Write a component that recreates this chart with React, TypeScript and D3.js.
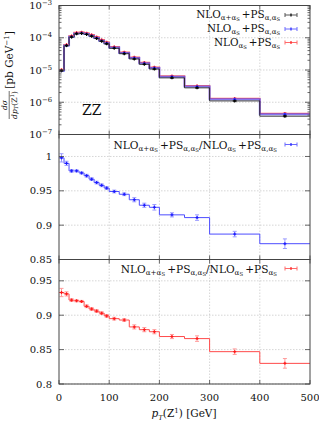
import React from "react";
import * as d3 from "d3";

// bin edges in p_T(Z1) [GeV]
const binEdges = [0, 10, 20, 30, 40, 50, 60, 70, 80, 90, 100, 120, 140, 160, 180, 200, 250, 300, 400, 500];
const xTicks = [0, 100, 200, 300, 400, 500];

// dsigma/dpT [pb/GeV]
const nloFullPsFull = [9.5e-6, 5.7e-5, 1.05e-4, 1.33e-4, 1.36e-4, 1.27e-4, 1.12e-4, 9.5e-5, 7.8e-5, 6.5e-5, 4.7e-5, 3.2e-5, 2.2e-5, 1.5e-5, 1.07e-5, 5.7e-6, 2.8e-6, 1.1e-6, 3.7e-7];
const nloQcdPsFull = [9.52e-6, 5.76e-5, 1.073e-4, 1.359e-4, 1.393e-4, 1.307e-4, 1.158e-4, 9.88e-5, 8.14e-5, 6.81e-5, 4.95e-5, 3.39e-5, 2.35e-5, 1.61e-5, 1.156e-5, 6.23e-6, 3.07e-6, 1.24e-6, 4.24e-7];
const nloQcdPsQcd = [1.018e-5, 6.12e-5, 1.139e-4, 1.444e-4, 1.478e-4, 1.391e-4, 1.232e-4, 1.049e-4, 8.64e-5, 7.23e-5, 5.25e-5, 3.58e-5, 2.49e-5, 1.71e-5, 1.221e-5, 6.56e-6, 3.23e-6, 1.3e-6, 4.46e-7];
const topRelErr = [0.03, 0.015, 0.01, 0.01, 0.01, 0.01, 0.01, 0.01, 0.01, 0.01, 0.01, 0.01, 0.012, 0.015, 0.015, 0.015, 0.02, 0.025, 0.04];

// ratios
const ratioBlue = [0.998, 0.99, 0.979, 0.979, 0.976, 0.972, 0.967, 0.962, 0.958, 0.954, 0.949, 0.945, 0.937, 0.929, 0.926, 0.915, 0.911, 0.887, 0.873];
const ratioBlueErr = [0.006, 0.003, 0.002, 0.0015, 0.0015, 0.002, 0.002, 0.002, 0.002, 0.002, 0.002, 0.002, 0.003, 0.003, 0.004, 0.003, 0.004, 0.004, 0.007];
const ratioRed = [0.933, 0.931, 0.922, 0.921, 0.92, 0.913, 0.909, 0.906, 0.903, 0.899, 0.895, 0.893, 0.883, 0.879, 0.876, 0.869, 0.866, 0.847, 0.83];
const ratioRedErr = [0.006, 0.003, 0.002, 0.0015, 0.0015, 0.002, 0.002, 0.002, 0.002, 0.002, 0.002, 0.002, 0.003, 0.003, 0.003, 0.003, 0.004, 0.004, 0.007];

const logTickExps = [-3, -4, -5, -6, -7];
const midTicks = [1, 0.95, 0.9, 0.85];
const lowTicks = [0.95, 0.9, 0.85, 0.8];

const FONT = "'DejaVu Serif', serif";
const W = 319, H = 421;
const L = 59, R = 310;
const topY = [5.5, 134.5], midY = [134.5, 259.5], lowY = [259.5, 384];

type Seg = [string, number]; // level: 0 base, 1 sub, 2 subsub, -1 sup

function Rich({x, y, segs, size, anchor = "start"}: {x: number; y: number; segs: Seg[]; size: number; anchor?: string}) {
    let cur = 0;
    return (
        <text x={x} y={y} fontSize={size} textAnchor={anchor} fontFamily={FONT} fill="#111">
            {segs.map(([t, l], i) => {
                const off = l === 1 ? size * 0.2 : l === 2 ? size * 0.3 : l === -1 ? -size * 0.4 : 0;
                const fs = l === 0 ? size : l === 2 ? size * 0.5 : size * 0.68;
                const dy = off - cur;
                cur = off;
                return <tspan key={i} dy={dy} fontSize={fs}>{t}</tspan>;
            })}
        </text>
    );
}

const lab1: Seg[] = [["NLO", 0], ["α+α", 1], ["S", 2], ["\u2009+PS", 0], ["α,α", 1], ["S", 2]];
const lab2: Seg[] = [["NLO", 0], ["α", 1], ["S", 2], ["\u2009+PS", 0], ["α,α", 1], ["S", 2]];
const lab3: Seg[] = [["NLO", 0], ["α", 1], ["S", 2], ["\u2009+PS", 0], ["α", 1], ["S", 2]];

export default function App() {
    const x = d3.scaleLinear().domain([0, 500]).range([L, R]);
    const yTop = d3.scaleLog().domain([1e-7, 1e-3]).range([topY[1], topY[0]]);
    const yMid = d3.scaleLinear().domain([0.85, 1.032]).range([midY[1], midY[0]]);
    const yLow = d3.scaleLinear().domain([0.8, 0.981]).range([lowY[1], lowY[0]]);

    const step = (vals: number[], ys: (v: number) => number) => {
        const pts: [number, number][] = vals.map((v, i) => [binEdges[i], v]);
        pts.push([binEdges[binEdges.length - 1], vals[vals.length - 1]]);
        return d3.line<[number, number]>().x(d => x(d[0])).y(d => ys(d[1])).curve(d3.curveStepAfter)(pts) || "";
    };

    const errBars = (vals: number[], errs: number[], ys: (v: number) => number, col: string, dot: string, rel = false) =>
        vals.map((v, i) => {
            const cx = x((binEdges[i] + binEdges[i + 1]) / 2);
            const e = rel ? v * errs[i] : errs[i];
            const y1 = ys(v - e), y2 = ys(v + e), yc = ys(v);
            return (
                <g key={i}>
                    <line x1={cx} x2={cx} y1={y1} y2={y2} stroke={col} strokeWidth={1} />
                    <line x1={cx - 2} x2={cx + 2} y1={y1} y2={y1} stroke={col} strokeWidth={1} />
                    <line x1={cx - 2} x2={cx + 2} y1={y2} y2={y2} stroke={col} strokeWidth={1} />
                    <line x1={cx - 1.5} x2={cx + 1.5} y1={yc} y2={yc} stroke={dot} strokeWidth={1.2} />
                    <line x1={cx} x2={cx} y1={yc - 1.5} y2={yc + 1.5} stroke={dot} strokeWidth={1.2} />
                </g>
            );
        });

    const grid = (ys: number[], y0: number, y1: number) => (
        <g stroke="#bbb" strokeWidth={0.6} strokeDasharray="1.5,1.5">
            {xTicks.slice(1, -1).map(t => <line key={"x" + t} x1={x(t)} x2={x(t)} y1={y0} y2={y1} />)}
            {ys.map((v, i) => <line key={"y" + i} x1={L} x2={R} y1={v} y2={v} />)}
        </g>
    );

    const xTickMarks = (y0: number, y1: number) => (
        <g stroke="#444" strokeWidth={0.8}>
            {xTicks.map(t => (
                <g key={t}>
                    <line x1={x(t)} x2={x(t)} y1={y0} y2={y0 + 4} />
                    <line x1={x(t)} x2={x(t)} y1={y1} y2={y1 - 4} />
                </g>
            ))}
        </g>
    );

    const yTickMarks = (ys: number[], len: number, key: string) => (
        <g stroke="#444" strokeWidth={0.8} key={key}>
            {ys.map((v, i) => (
                <g key={i}>
                    <line x1={L} x2={L + len} y1={v} y2={v} />
                    <line x1={R} x2={R - len} y1={v} y2={v} />
                </g>
            ))}
        </g>
    );

    const minorLog: number[] = [];
    for (let k = -7; k < -3; k++) for (let m = 2; m <= 9; m++) minorLog.push(m * Math.pow(10, k));

    const legendSample = (xx: number, yy: number, col: string, dot: string) => (
        <g>
            <line x1={xx} x2={xx + 12} y1={yy} y2={yy} stroke={col} strokeWidth={1} />
            <line x1={xx} x2={xx} y1={yy - 2} y2={yy + 2} stroke={col} strokeWidth={1} />
            <line x1={xx + 12} x2={xx + 12} y1={yy - 2} y2={yy + 2} stroke={col} strokeWidth={1} />
            <line x1={xx + 6} x2={xx + 6} y1={yy - 1.5} y2={yy + 1.5} stroke={dot} strokeWidth={1.2} />
        </g>
    );

    return (
        <svg width={W} height={H} style={{position: "absolute", left: 0, top: 0, background: "white"}}>
            {/* top panel */}
            {grid(logTickExps.map(e => yTop(Math.pow(10, e))), topY[0], topY[1])}
            <path d={step(nloQcdPsQcd, yTop)} fill="none" stroke="#ff5a5a" strokeWidth={1.5} opacity={0.9} />
            <path d={step(nloQcdPsFull, yTop)} fill="none" stroke="#4444ff" strokeWidth={2} opacity={0.65} />
            <path d={step(nloFullPsFull, yTop)} fill="none" stroke="#222" strokeWidth={0.9} />
            {errBars(nloQcdPsQcd, topRelErr, yTop, "#ff7070", "#ff2020", true)}
            {errBars(nloQcdPsFull, topRelErr, yTop, "#7070ff", "#2020ff", true)}
            {errBars(nloFullPsFull, topRelErr, yTop, "#444", "#000", true)}
            {yTickMarks(logTickExps.map(e => yTop(Math.pow(10, e))), 5, "tmaj")}
            {yTickMarks(minorLog.map(v => yTop(v)), 2.5, "tmin")}
            {xTickMarks(topY[0], topY[1])}
            {logTickExps.map(e => (
                <Rich key={e} x={52} y={yTop(Math.pow(10, e)) + 3.5} size={10} anchor="end"
                      segs={[["10", 0], ["−" + Math.abs(e), -1]]} />
            ))}
            <text x={82} y={115} fontSize={14} fontFamily={FONT} fill="#111">ZZ</text>
            <Rich x={280} y={18} size={10.4} anchor="end" segs={lab1} />
            <Rich x={280} y={32} size={10.4} anchor="end" segs={lab2} />
            <Rich x={280} y={46} size={10.4} anchor="end" segs={lab3} />
            {legendSample(285, 15, "#555", "#000")}
            {legendSample(285, 29, "#6a6aff", "#2020ff")}
            {legendSample(285, 42.5, "#ff6a6a", "#ff2020")}

            {/* middle panel */}
            {grid(midTicks.map(v => yMid(v)), midY[0], midY[1])}
            <path d={step(ratioBlue, yMid)} fill="none" stroke="#4d4dff" strokeWidth={1} />
            {errBars(ratioBlue, ratioBlueErr, yMid, "#9a9aff", "#1a1aff")}
            {yTickMarks(midTicks.map(v => yMid(v)), 5, "mmaj")}
            {xTickMarks(midY[0], midY[1])}
            {midTicks.map(v => (
                <text key={v} x={52} y={yMid(v) + 3.5} fontSize={10} textAnchor="end" fontFamily={FONT} fill="#111">{String(v)}</text>
            ))}
            <Rich x={277} y={149} size={10.6} anchor="end"
                  segs={[...lab1, ["/NLO", 0], ["α", 1], ["S", 2], ["\u2009+PS", 0], ["α,α", 1], ["S", 2]]} />
            {legendSample(285, 144.5, "#6a6aff", "#2020ff")}

            {/* bottom panel */}
            {grid(lowTicks.map(v => yLow(v)), lowY[0], lowY[1])}
            <path d={step(ratioRed, yLow)} fill="none" stroke="#ff4a4a" strokeWidth={1} />
            {errBars(ratioRed, ratioRedErr, yLow, "#ff9a9a", "#ff1a1a")}
            {yTickMarks(lowTicks.map(v => yLow(v)), 5, "lmaj")}
            {xTickMarks(lowY[0], lowY[1])}
            {lowTicks.map(v => (
                <text key={v} x={52} y={yLow(v) + 3.5} fontSize={10} textAnchor="end" fontFamily={FONT} fill="#111">{String(v)}</text>
            ))}
            <Rich x={277} y={273} size={10.6} anchor="end"
                  segs={[...lab1, ["/NLO", 0], ["α", 1], ["S", 2], ["\u2009+PS", 0], ["α", 1], ["S", 2]]} />
            {legendSample(285, 268.5, "#ff6a6a", "#ff2020")}

            {/* frames */}
            <g fill="none" stroke="#444" strokeWidth={1}>
                <rect x={L} y={topY[0]} width={R - L} height={topY[1] - topY[0]} />
                <rect x={L} y={midY[0]} width={R - L} height={midY[1] - midY[0]} />
                <rect x={L} y={lowY[0]} width={R - L} height={lowY[1] - lowY[0]} />
            </g>

            {/* x axis */}
            {xTicks.map(t => (
                <text key={t} x={x(t)} y={401} fontSize={10} textAnchor="middle" fontFamily={FONT} fill="#111">{t}</text>
            ))}
            <text x={184} y={417} fontSize={10.5} textAnchor="middle" fontFamily={FONT} fill="#111">
                <tspan fontStyle="italic">p</tspan>
                <tspan fontSize={7} dy={2.5} fontStyle="italic">T</tspan>
                <tspan dy={-2.5}>(Z</tspan>
                <tspan fontSize={7} dy={-4}>1</tspan>
                <tspan dy={4}>) [GeV]</tspan>
            </text>

            {/* y axis title */}
            <g transform="translate(13,70) rotate(-90)">
                <text x={-35} y={-6} fontSize={7.5} textAnchor="middle" fontFamily={FONT} fill="#111">
                    <tspan fontStyle="italic">dσ</tspan>
                </text>
                <line x1={-49} x2={-21} y1={-3.8} y2={-3.8} stroke="#111" strokeWidth={0.6} />
                <text x={-35} y={3.5} fontSize={7.5} textAnchor="middle" fontFamily={FONT} fill="#111">
                    <tspan fontStyle="italic">dp</tspan>
                    <tspan fontSize={5.5} dy={1.5} fontStyle="italic">T</tspan>
                    <tspan dy={-1.5}>(Z</tspan>
                    <tspan fontSize={5.5} dy={-2.5}>1</tspan>
                    <tspan dy={2.5}>)</tspan>
                </text>
                <text x={10} y={0} fontSize={10.5} textAnchor="middle" fontFamily={FONT} fill="#111">
                    <tspan>[pb GeV</tspan>
                    <tspan fontSize={7} dy={-4}>−1</tspan>
                    <tspan dy={4}>]</tspan>
                </text>
            </g>
        </svg>
    );
}
